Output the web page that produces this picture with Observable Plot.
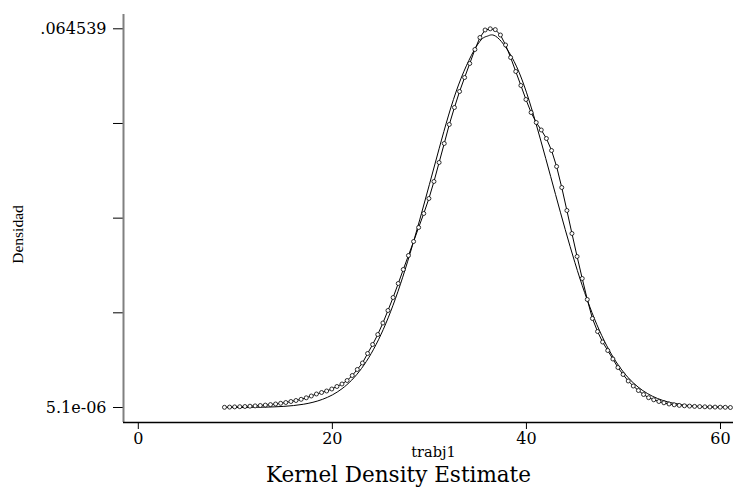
<!DOCTYPE html>
<html><head><meta charset="utf-8">
<script src="https://cdn.jsdelivr.net/npm/d3@7"></script>
<script src="https://cdn.jsdelivr.net/npm/@observablehq/plot@0.6"></script>
<style>body{margin:0;background:#fff} svg{display:block}</style>
</head><body><div id="chart"></div>
<script>
// Kernel density evaluation points (trabj1) and estimated densities
const kdeX = [8.88,9.41,9.93,10.46,10.99,11.51,12.04,12.57,13.09,13.62,
  14.15,14.67,15.20,15.73,16.25,16.78,17.31,17.83,18.36,18.89,
  19.41,19.94,20.47,20.99,21.52,22.05,22.57,23.10,23.63,24.15,
  24.68,25.21,25.73,26.26,26.79,27.31,27.84,28.37,28.89,29.42,
  29.95,30.47,31.00,31.53,32.05,32.58,33.11,33.63,34.16,34.69,
  35.21,35.74,36.27,36.79,37.32,37.85,38.37,38.90,39.43,39.95,
  40.48,41.01,41.53,42.06,42.59,43.11,43.64,44.17,44.69,45.22,
  45.75,46.27,46.80,47.33,47.85,48.38,48.91,49.43,49.96,50.49,
  51.01,51.54,52.07,52.59,53.12,53.65,54.17,54.70,55.23,55.75,
  56.28,56.81,57.33,57.86,58.39,58.91,59.44,59.97,60.49,61.02];
const kdeY = [0.000039,0.000073,0.000107,0.000141,0.000175,0.000227,0.000278,0.000346,0.000414,0.000499,
  0.000602,0.000721,0.000857,0.001028,0.001198,0.001402,0.001658,0.001965,0.002306,0.002561,
  0.002817,0.003158,0.003584,0.004010,0.004606,0.005458,0.006481,0.007589,0.009207,0.010741,
  0.012445,0.014405,0.016535,0.018750,0.021136,0.023522,0.025907,0.028293,0.030679,0.033065,
  0.035621,0.038518,0.041755,0.044993,0.048231,0.051128,0.053855,0.056240,0.058626,0.061012,
  0.063057,0.064335,0.064539,0.064400,0.063483,0.061779,0.059649,0.057263,0.054877,0.052491,
  0.050276,0.048572,0.047294,0.045845,0.043800,0.041072,0.037495,0.033576,0.029657,0.025737,
  0.021988,0.018409,0.015172,0.012956,0.011167,0.009718,0.008270,0.006821,0.005629,0.004521,
  0.003669,0.002902,0.002220,0.001675,0.001317,0.001028,0.000806,0.000602,0.000465,0.000363,
  0.000295,0.000244,0.000192,0.000158,0.000124,0.000090,0.000073,0.000056,0.000039,0.0000051];

// Normal density overlay
const normX = [9,11,13,15,17,19,21,23,25,27,29,31,33,35,36,37,39,41,43,45,47,49,51,53,55,57,59,61];
const normY = [0.000005,0.0000187,0.000064,0.000198,0.000556,0.001406,0.003213,0.006646,0.01241,0.02095,
  0.03197,0.04410,0.05497,0.06194,0.06330,0.06307,0.05805,0.04830,0.03631,0.02468,
  0.01516,0.008419,0.004224,0.001916,0.000786,0.000291,0.0000974,0.0000295];

const yTicks = [0.0000051, 0.0161386, 0.0322721, 0.0484055, 0.064539];
const yTickLabels = ["5.1e-06", "", "", "", ".064539"];
const xTicks = [0, 20, 40, 60];

const kde = kdeX.map((x, i) => ({x, y: kdeY[i]}));
const norm = normX.map((x, i) => ({x, y: normY[i]}));

const xDom = [-1.525, 61.34];
const yDom = [-0.002551, 0.066976];

const chart = Plot.plot({
  width: 737,
  height: 487,
  marginLeft: 123,
  marginRight: 4,
  marginTop: 14,
  marginBottom: 65,
  style: {fontFamily: "'DejaVu Serif', serif", color: "#000", background: "#fff"},
  x: {domain: xDom},
  y: {domain: yDom},
  marks: [
    Plot.axisY({ticks: yTicks, tickSize: 10, tickPadding: 7, fontSize: 16,
      tickFormat: d => yTickLabels[yTicks.indexOf(d)], label: null}),
    Plot.axisX({ticks: xTicks, tickSize: 7, tickPadding: 3, fontSize: 16, tickFormat: d => String(d), label: null}),
    Plot.ruleX([xDom[0]], {stroke: "#808080", strokeWidth: 2}),
    Plot.ruleY([yDom[0]], {stroke: "#000", strokeWidth: 1.5}),
    Plot.line(norm, {x: "x", y: "y", curve: "natural", stroke: "#000", strokeWidth: 1}),
    Plot.line(kde, {x: "x", y: "y", stroke: "#000", strokeWidth: 1}),
    Plot.dot(kde, {x: "x", y: "y", r: 2, stroke: "#000", fill: "#fff", strokeWidth: 0.8}),
    Plot.text(["trabj1"], {frameAnchor: "bottom", dx: 5, dy: 30, fontSize: 14.5, lineAnchor: "middle", fill: "#000"}),
    Plot.text(["Kernel Density Estimate"], {frameAnchor: "bottom", dx: -30, dy: 53, fontSize: 21.5, lineAnchor: "middle", fill: "#000"}),
    Plot.text(["Densidad"], {frameAnchor: "left", dx: -105, dy: 16, rotate: -90, fontSize: 15.5,
      textAnchor: "middle", fontFamily: "'Liberation Serif', serif", lineAnchor: "middle", fill: "#000"})
  ]
});
document.getElementById("chart").appendChild(chart);
</script>
</body></html>
